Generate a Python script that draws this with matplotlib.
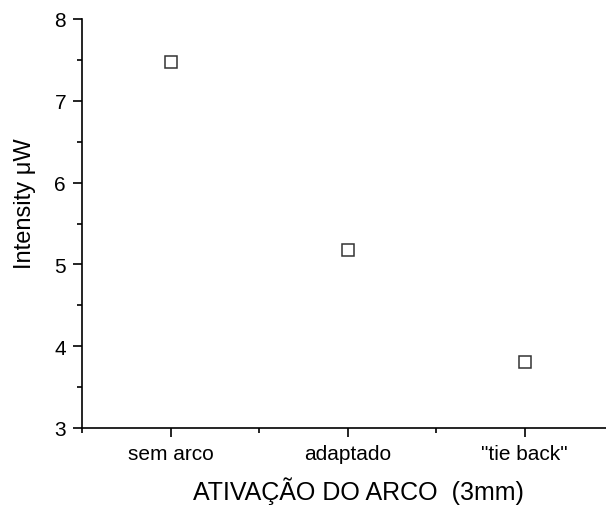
import matplotlib
matplotlib.use('Agg')
import matplotlib.pyplot as plt
from matplotlib.ticker import MultipleLocator

plt.rcParams['font.family'] = ['Liberation Sans', 'DejaVu Sans']

categories = ['sem arco', 'adaptado', '"tie back"']
intensity = [7.47, 5.18, 3.81]
positions = [1, 2, 3]

fig = plt.figure(figsize=(6.06, 5.06), dpi=100)
# axes run past the right edge of the picture, as in the original
ax = fig.add_axes([82 / 606, 1 - 429 / 506, 531 / 606, 409 / 506])

ax.plot(positions, intensity, linestyle='none', marker='s', markersize=9,
        markerfacecolor='white', markeredgecolor='#333333', markeredgewidth=1.1)

ax.set_xlim(0.5, 3.5)
ax.set_ylim(3, 8)
ax.set_xticks(positions)
ax.set_xticklabels(categories)
ax.xaxis.set_minor_locator(MultipleLocator(0.5))
ax.yaxis.set_major_locator(MultipleLocator(1))
ax.yaxis.set_minor_locator(MultipleLocator(0.5))

ax.spines['top'].set_visible(False)
ax.spines['right'].set_visible(False)
for s in ('left', 'bottom'):
    ax.spines[s].set_linewidth(1.2)

ax.tick_params(which='major', direction='out', length=6.5, width=1.2, labelsize=15, pad=5)
ax.tick_params(which='minor', direction='out', length=3.6, width=1.2)

ax.set_xlabel('ATIVAÇÃO DO ARCO  (3mm)', fontsize=18)
ax.set_ylabel('Intensity μW', fontsize=17)
ax.xaxis.set_label_coords(0.52, -0.117)
ax.yaxis.set_label_coords(-0.086, 0.55)

fig.savefig('out.png', dpi=100)
